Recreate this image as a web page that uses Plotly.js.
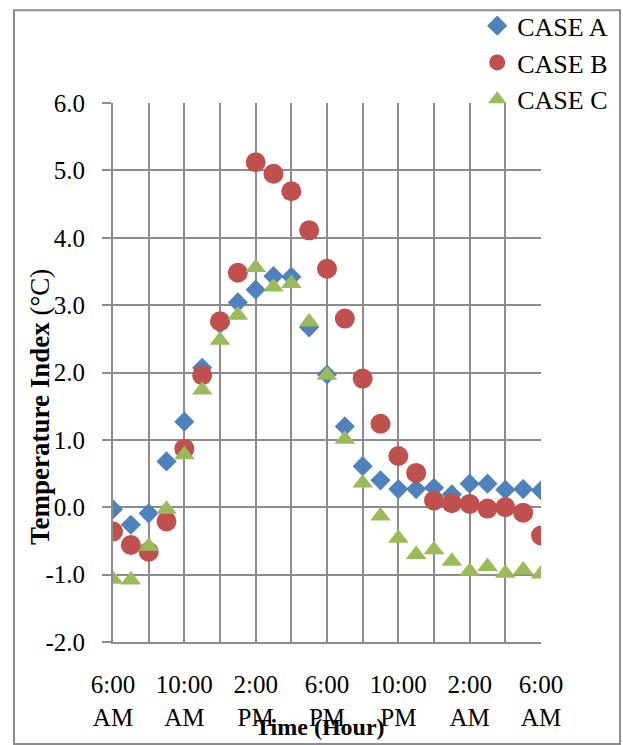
<!DOCTYPE html>
<html>
<head>
<meta charset="utf-8">
<script src="https://cdn.plot.ly/plotly-3.0.1.min.js"></script>
<style>
  html, body { margin: 0; padding: 0; background: #ffffff; }
  #chart { width: 623px; height: 745px; }
</style>
</head>
<body>
<div id="chart"></div>
<script>
// Hourly readings over one day, 6:00 AM to 6:00 AM
const times = [
  '2020-06-01 06:00', '2020-06-01 07:00', '2020-06-01 08:00', '2020-06-01 09:00',
  '2020-06-01 10:00', '2020-06-01 11:00', '2020-06-01 12:00', '2020-06-01 13:00',
  '2020-06-01 14:00', '2020-06-01 15:00', '2020-06-01 16:00', '2020-06-01 17:00',
  '2020-06-01 18:00', '2020-06-01 19:00', '2020-06-01 20:00', '2020-06-01 21:00',
  '2020-06-01 22:00', '2020-06-01 23:00', '2020-06-02 00:00', '2020-06-02 01:00',
  '2020-06-02 02:00', '2020-06-02 03:00', '2020-06-02 04:00', '2020-06-02 05:00',
  '2020-06-02 06:00'
];

const caseA = [-0.03, -0.26, -0.09, 0.68, 1.27, 2.07, 2.72, 3.04, 3.23, 3.43, 3.42, 2.67, 1.97,
               1.20, 0.61, 0.40, 0.27, 0.27, 0.29, 0.19, 0.35, 0.35, 0.26, 0.27, 0.25];
const caseB = [-0.36, -0.56, -0.66, -0.21, 0.87, 1.96, 2.76, 3.48, 5.12, 4.95, 4.69, 4.11, 3.54,
               2.80, 1.91, 1.24, 0.76, 0.51, 0.10, 0.06, 0.05, -0.02, 0.00, -0.08, -0.42];
const caseC = [-1.07, -1.08, -0.58, -0.03, 0.78, 1.74, 2.48, 2.85, 3.56, 3.27, 3.32, 2.75, 1.96,
               1.01, 0.36, -0.13, -0.46, -0.70, -0.63, -0.80, -0.95, -0.88, -0.98, -0.93, -0.99];

// Grid every 2 hours, labels every 4 hours
const gridTimes = [
  '2020-06-01 06:00', '2020-06-01 08:00', '2020-06-01 10:00', '2020-06-01 12:00',
  '2020-06-01 14:00', '2020-06-01 16:00', '2020-06-01 18:00', '2020-06-01 20:00',
  '2020-06-01 22:00', '2020-06-02 00:00', '2020-06-02 02:00', '2020-06-02 04:00',
  '2020-06-02 06:00'
];
const gridLabels = [
  '6:00<br>AM', '', '10:00<br>AM', '', '2:00<br>PM', '', '6:00<br>PM', '',
  '10:00<br>PM', '', '2:00<br>AM', '', '6:00<br>AM'
];

// Value axis ticks, written with a plain hyphen for negatives
const yTickVals = [-2, -1, 0, 1, 2, 3, 4, 5, 6];
const yTickText = ['-2.0', '-1.0', '0.0', '1.0', '2.0', '3.0', '4.0', '5.0', '6.0'];

const seriesNames = ['CASE A', 'CASE B', 'CASE C'];

const serif = 'Liberation Serif, Times New Roman, serif';
const gridColor = '#8c8c8c';

const traces = [
  {
    x: times, y: caseA, name: seriesNames[0], type: 'scatter', mode: 'markers',
    marker: { symbol: 'diamond', size: 15.5, color: '#4f81bd', line: { width: 0 } }
  },
  {
    x: times, y: caseB, name: seriesNames[1], type: 'scatter', mode: 'markers',
    marker: { symbol: 'circle', size: 20, color: '#c0504d', line: { width: 0 } }
  },
  {
    x: times, y: caseC, name: seriesNames[2], type: 'scatter', mode: 'markers',
    marker: { symbol: 'triangle-up', size: 18, color: '#9bbb59', line: { width: 0 } }
  }
];

const layout = {
  width: 623,
  height: 745,
  margin: { l: 113, r: 82, t: 103, b: 103, autoexpand: false },
  paper_bgcolor: '#ffffff',
  plot_bgcolor: '#ffffff',
  font: { family: serif, size: 25, color: '#000000' },
  showlegend: true,
  legend: {
    xref: 'container', yref: 'container',
    x: 0.766, y: 0.997, xanchor: 'left', yanchor: 'top',
    bgcolor: 'rgba(0,0,0,0)', borderwidth: 0,
    font: { family: serif, size: 26, color: '#000000' },
    itemwidth: 30,
    tracegroupgap: 0
  },
  xaxis: {
    type: 'date',
    range: [times[0], times[times.length - 1]],
    tickmode: 'array',
    tickvals: gridTimes,
    ticktext: gridLabels,
    ticks: '',
    ticklabelstandoff: 19,
    showgrid: true, gridcolor: gridColor, gridwidth: 2,
    showline: true, linecolor: gridColor, linewidth: 2,
    zeroline: false,
    tickfont: { family: serif, size: 25, color: '#000000' },
    fixedrange: true
  },
  yaxis: {
    range: [-2, 6],
    tickmode: 'array',
    tickvals: yTickVals,
    ticktext: yTickText,
    ticks: 'outside', ticklen: 9, tickwidth: 2, tickcolor: gridColor,
    ticklabelstandoff: 12,
    showgrid: true, gridcolor: gridColor, gridwidth: 2,
    showline: true, linecolor: gridColor, linewidth: 2,
    zeroline: false,
    tickfont: { family: serif, size: 25, color: '#000000' },
    fixedrange: true
  },
  annotations: [
    {
      xref: 'paper', yref: 'paper', x: -0.1706, y: 0.4358,
      xanchor: 'center', yanchor: 'middle', textangle: -90, showarrow: false,
      text: '<b>Temperature Index </b>(°C)',
      font: { family: serif, size: 27, color: '#000000' }
    },
    {
      xref: 'paper', yref: 'paper', x: 0.4836, y: -0.1576,
      xanchor: 'center', yanchor: 'middle', showarrow: false,
      text: '<b>Time (Hour)</b>',
      font: { family: serif, size: 24, color: '#000000' }
    }
  ],
  shapes: [
    {
      type: 'rect', xref: 'paper', yref: 'paper',
      x0: -0.2313, x1: 1.1846, y0: -0.1891, y1: 1.1719,
      line: { color: gridColor, width: 2 }, fillcolor: 'rgba(0,0,0,0)', layer: 'below'
    }
  ]
};

Plotly.newPlot('chart', traces, layout, { displayModeBar: false, staticPlot: true });
</script>
</body>
</html>
